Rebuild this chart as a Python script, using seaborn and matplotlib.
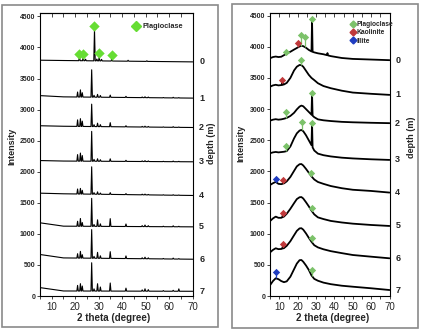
import matplotlib
matplotlib.use("Agg")
import matplotlib.pyplot as plt
from matplotlib.lines import Line2D
from matplotlib.patches import Rectangle
import numpy as np
import seaborn as sns

sns.set_theme(style="ticks")
plt.rcParams['font.family'] = ['Liberation Sans', 'DejaVu Sans']
NARROW = ['Liberation Sans Narrow', 'Liberation Sans', 'DejaVu Sans']

depth_labels = ['0', '1', '2', '3', '4', '5', '6', '7']

# ---- left panel: sharp diffraction patterns ----
# background level at 2theta = 5, 15, 70
left_bg_x = [5, 15, 70]
left_bg_y = [
    [3795, 3790, 3768],
    [3225, 3205, 3185],
    [2740, 2732, 2712],
    [2180, 2172, 2160],
    [1655, 1645, 1618],
    [1178, 1124, 1113],
    [668, 613, 592],
    [135, 81, 76],
]
# depth 0 pattern is shifted a bit to the right
left_peak_x0 = [21.8, 23.4, 24.4, 28.2, 29.2, 30.2, 31.2, 35.6, 42.5, 50.5]
left_peak_h0 = [60, 65, 25, 510, 30, 55, 25, 50, 15, 10]
left_peak_x = [21.0, 22.2, 23.0, 27.0, 28.0, 29.5, 30.7, 34.9, 41.6,
               48.5, 49.7, 51.1, 57.5, 61.7, 64.1]
left_peak_h = [
    [80, 115, 70, 440, 30, 45, 28, 35, 18, 10, 14, 10, 5, 10, 6],
    [105, 125, 85, 360, 30, 55, 32, 65, 18, 10, 14, 10, 5, 10, 6],
    [105, 130, 90, 480, 30, 40, 25, 40, 18, 10, 14, 10, 5, 10, 6],
    [80, 90, 60, 440, 25, 38, 20, 28, 16, 10, 12, 8, 5, 8, 5],
    [80, 125, 60, 450, 30, 105, 40, 125, 40, 15, 25, 15, 8, 15, 8],
    [70, 108, 55, 460, 30, 95, 40, 108, 42, 15, 25, 15, 8, 15, 8],
    [90, 118, 80, 455, 35, 118, 65, 130, 48, 20, 38, 25, 10, 15, 38],
]
left_plag_x = [21.8, 23.4, 28.2, 30.2, 35.6]
left_plag_y = [3895, 3895, 4350, 3910, 3880]

# ---- right panel: broad amorphous hump patterns ----
right_x = [5, 6.5, 8, 9.5, 11, 12.5, 14, 16, 18, 19.5, 21, 22, 23, 24.5,
           26, 27.5, 29, 31, 34, 38, 44, 50, 60, 70]
right_y = [
    [3817, 3835, 3843, 3835, 3840, 3865, 3890, 3920, 3955, 3980, 4005, 4015,
     4010, 3985, 3950, 3925, 3910, 3895, 3880, 3850, 3820, 3805, 3795, 3785],
    [3360, 3380, 3390, 3380, 3385, 3395, 3420, 3500, 3620, 3680, 3708, 3705,
     3680, 3615, 3550, 3500, 3465, 3415, 3370, 3335, 3295, 3265, 3245, 3228],
    [2815, 2830, 2838, 2830, 2835, 2845, 2858, 2890, 2940, 2995, 3040, 3056,
     3045, 3000, 2955, 2910, 2870, 2835, 2820, 2808, 2795, 2788, 2780, 2774],
    [2292, 2305, 2312, 2305, 2310, 2315, 2325, 2400, 2530, 2610, 2655, 2665,
     2645, 2580, 2500, 2420, 2335, 2285, 2260, 2240, 2220, 2208, 2194, 2184],
    [1783, 1810, 1831, 1800, 1795, 1807, 1840, 1911, 2008, 2080, 2115, 2118,
     2095, 2040, 1980, 1920, 1870, 1830, 1800, 1765, 1730, 1705, 1686, 1660],
    [1205, 1245, 1274, 1255, 1255, 1275, 1320, 1400, 1490, 1555, 1585, 1588,
     1565, 1505, 1440, 1370, 1310, 1262, 1235, 1205, 1180, 1161, 1140, 1124],
    [702, 740, 766, 752, 755, 768, 805, 880, 975, 1045, 1085, 1088,
     1065, 1005, 935, 870, 815, 780, 750, 720, 688, 658, 631, 605],
    [177, 240, 284, 270, 240, 222, 235, 310, 430, 520, 575, 578,
     550, 490, 420, 330, 275, 245, 215, 190, 165, 149, 124, 96],
]
# sharp reflections sitting on the humps: depth index -> (positions, heights)
right_peaks = {
    0: ([27.8, 36.2], [500, 35]),
    1: ([11.6], [40]),
    2: ([27.8], [335]),
    3: ([27.8], [360]),
    4: ([12.2], [30]),
    5: ([11.8], [25]),
    6: ([11.8], [25]),
}
# phase markers: (depth index, 2theta, marker height)
right_plag = [(0, 13.7, 3914), (0, 21.7, 4196), (0, 23.8, 4155), (0, 27.8, 4444),
              (1, 21.7, 3790), (2, 13.6, 2950), (2, 27.8, 3252), (3, 13.6, 2409),
              (3, 22.2, 2799), (3, 27.8, 2783), (4, 27.3, 1971), (5, 27.7, 1418),
              (6, 27.7, 927), (7, 27.7, 418)]
right_kaol = [(0, 20.2, 4058), (1, 11.6, 3469), (4, 12.2, 1868),
              (5, 11.8, 1338), (6, 11.8, 830)]
right_illite = [(4, 8.2, 1879), (7, 8.2, 381)]

GREEN_L = '#66dd33'
GREEN_R = '#7cc26a'
RED = '#c0393b'
BLUE = '#1f3cc0'


def pattern(bx, by, px, ph, hw=0.3):
    xs = list(bx)
    for p in px:
        xs += [p - hw, p, p + hw]
    xs = np.unique(np.round(xs, 3))
    ys = np.interp(xs, bx, by)
    for p, h in zip(px, ph):
        ys[np.isclose(xs, p)] += h
    return xs, ys


def style_axes(ax):
    ax.set_xlim(5, 70)
    ax.set_ylim(0, 4550)
    ax.set_xticks(range(10, 71, 10))
    ax.set_xticks(range(5, 71, 5), minor=True)
    ax.set_yticks(range(0, 4501, 500))
    for s in ax.spines.values():
        s.set_visible(True)
        s.set_linewidth(0.8)
        s.set_color('black')
    ax.tick_params(axis='x', which='both', direction='out', length=2.5,
                   width=0.6, pad=1.5, labelsize=7)
    ax.tick_params(axis='y', direction='out', length=2.5, width=0.6,
                   pad=1, labelsize=5)
    for lab in ax.get_xticklabels() + ax.get_yticklabels():
        lab.set_family(NARROW)
    for lab in ax.get_yticklabels():
        lab.set_fontweight('bold')
    top = ax.secondary_xaxis('top')
    top.set_xticks(range(5, 71, 5))
    top.tick_params(direction='in', length=3, width=0.6, labeltop=False)
    top.spines['top'].set_linewidth(0.8)
    ax.set_xlabel('2 theta (degree)', fontsize=7, fontweight='bold', family=NARROW)
    ax.set_ylabel('Intensity', fontsize=6.5, fontweight='bold', family=NARROW)
    ax.grid(False)


fig = plt.figure(figsize=(4.21, 3.29), dpi=100)
fig.patch.set_facecolor('white')

# panel frames
fig.add_artist(Rectangle((2 / 421, 1 - 327 / 329), 216 / 421, 322 / 329,
                         transform=fig.transFigure, fill=False,
                         edgecolor='#8a8a8a', lw=1.2))
fig.add_artist(Rectangle((232 / 421, 1 - 328 / 329), 186 / 421, 324 / 329,
                         transform=fig.transFigure, fill=False,
                         edgecolor='#8a8a8a', lw=1.2))

axl = fig.add_axes([0.0950, 0.1003, 0.3627, 0.8593])
axr = fig.add_axes([0.6418, 0.1003, 0.2834, 0.8617])

# left panel curves
for i, bg in enumerate(left_bg_y):
    if i == 0:
        px, ph = left_peak_x0, left_peak_h0
    else:
        px, ph = left_peak_x, left_peak_h[i - 1]
    xs, ys = pattern(left_bg_x, bg, px, ph)
    sns.lineplot(x=xs, y=ys, ax=axl, color='black', lw=0.8,
                 estimator=None, sort=False)
    axl.text(1.059, bg[-1], depth_labels[i], transform=axl.get_yaxis_transform(),
             ha='center', va='center', fontsize=6.5, fontweight='bold')

sns.scatterplot(x=left_plag_x, y=left_plag_y, ax=axl, marker='D', s=28,
                color=GREEN_L, edgecolor=GREEN_L, linewidth=0, zorder=5)
axl.legend([Line2D([], [], ls='', marker='D', color=GREEN_L, markersize=5.5)],
           ['Plagioclase'], loc='upper left', bbox_to_anchor=(0.58, 0.975),
           frameon=False, handletextpad=0.3, borderaxespad=0, handlelength=1.2,
           prop=dict(family=NARROW, weight='bold', size=5.3))
style_axes(axl)
axl.yaxis.set_label_coords(-0.157, 0.53)
axl.xaxis.set_label_coords(0.485, -0.06)
axl.text(1.12, 0.54, 'depth (m)', transform=axl.transAxes, rotation=90,
         ha='center', va='center', fontsize=6.5, fontweight='bold', family=NARROW)

# right panel curves
curves = []
for i, ry in enumerate(right_y):
    px, ph = right_peaks.get(i, ([], []))
    xs, ys = pattern(right_x, ry, px, ph)
    curves.append((xs, ys))
    sns.lineplot(x=xs, y=ys, ax=axr, color='black', lw=1.3,
                 estimator=None, sort=False)
    axr.text(1.069, ry[-1], depth_labels[i], transform=axr.get_yaxis_transform(),
             ha='center', va='center', fontsize=6.5, fontweight='bold')

for marks, col in [(right_plag, GREEN_R), (right_kaol, RED), (right_illite, BLUE)]:
    mx, my = [], []
    for i, x, y in marks:
        yc = np.interp(x, *curves[i])
        axr.vlines(x, yc, y, color=col, lw=0.9, zorder=4)
        mx.append(x)
        my.append(y)
    sns.scatterplot(x=mx, y=my, ax=axr, marker='D', s=14, color=col,
                    edgecolor=col, linewidth=0, zorder=5)

handles = [Line2D([], [], ls='', marker='D', color=c, markersize=3.5)
           for c in (GREEN_R, RED, BLUE)]
axr.legend(handles, ['Plagioclase', 'Kaolinite', 'Illite'], loc='upper left',
           bbox_to_anchor=(0.64, 0.98), frameon=False, handletextpad=0.1,
           labelspacing=0.2, borderaxespad=0, handlelength=1.0,
           prop=dict(family=NARROW, weight='bold', size=4.8))
style_axes(axr)
axr.yaxis.set_label_coords(-0.207, 0.54)
axr.xaxis.set_label_coords(0.52, -0.06)
axr.text(1.184, 0.56, 'depth (m)', transform=axr.transAxes, rotation=90,
         ha='center', va='center', fontsize=6.5, fontweight='bold', family=NARROW)

fig.savefig('out.png', dpi=100)
